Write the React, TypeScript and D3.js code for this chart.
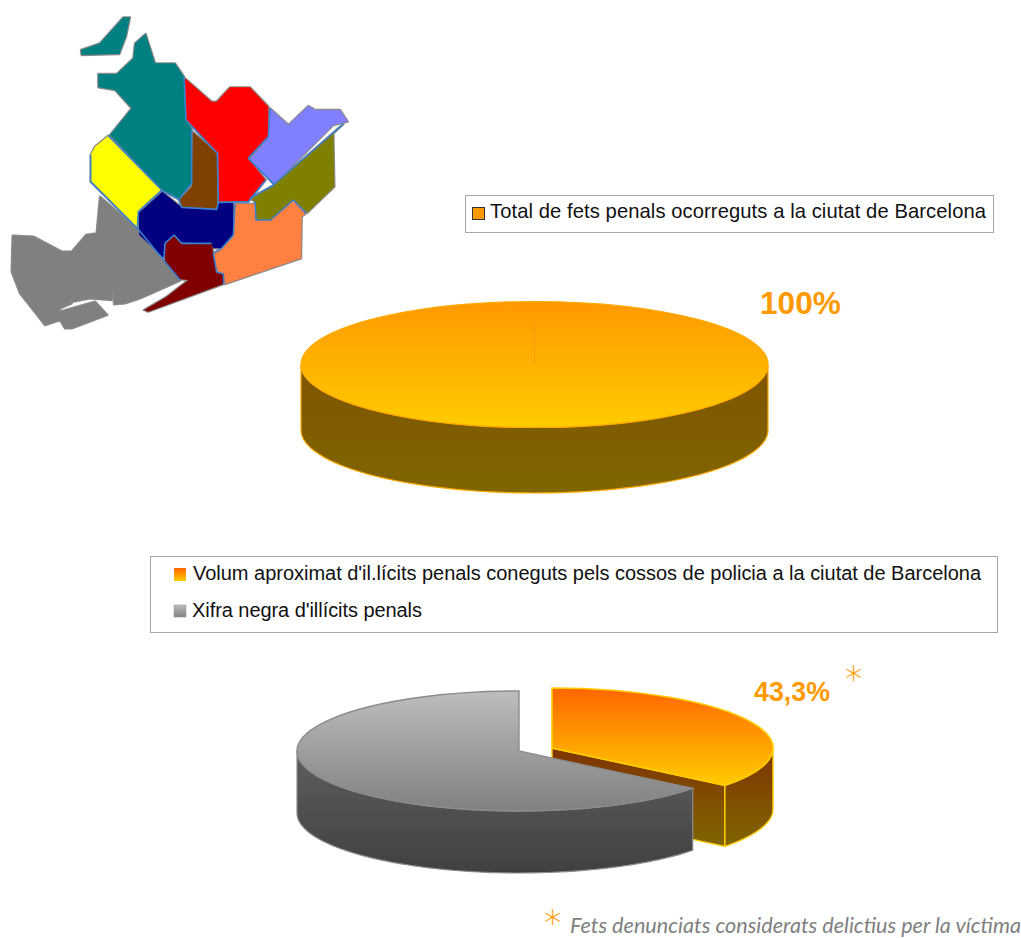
import React from "react";
import * as d3 from "d3";

// ---------- data ----------
const totalLabels = ["Total de fets penals ocorreguts a la ciutat de Barcelona"];
const totalValues = [100];
const splitLabels = [
  "Volum aproximat d'il.lícits penals coneguts pels cossos de policia a la ciutat de Barcelona",
  "Xifra negra d'illícits penals",
];
// shares as they appear in the drawn (perspective-distorted) pie
const splitDrawnShares = [35.7, 64.3];
const totalText = "100%";
const splitText = "43,3%";
const footnote = "Fets denunciats considerats delictius per la víctima";

// district outlines of the Barcelona map, in map units
type Pt = [number, number];
const districts: { fill: string; pts: Pt[] }[] = [
  { fill: "#808080", pts: [[38,707],[100,710],[185,755],[215,755],[258,705],[290,700],[300,590],[415,690],[540,842],[420,895],[375,910],[342,913],[342,875],[335,875],[335,900],[270,895],[220,905],[200,893],[215,910],[180,925],[180,935],[285,905],[322,945],[215,985],[195,985],[180,960],[135,975],[60,880],[35,815]] },
  { fill: "#008080", pts: [[243,150],[300,130],[370,52],[390,52],[378,110],[358,162],[245,165]] },
  { fill: "#008080", pts: [[295,222],[350,222],[400,175],[405,130],[437,102],[465,190],[525,190],[552,230],[558,360],[575,385],[575,550],[537,598],[487,570],[330,405],[395,325],[345,270],[295,262]] },
  { fill: "#FF0000", pts: [[555,235],[635,305],[650,305],[690,262],[750,262],[805,320],[805,410],[745,475],[797,540],[745,605],[655,605],[655,460],[558,360]] },
  { fill: "#8080FF", pts: [[810,325],[865,375],[925,318],[945,330],[1020,330],[1043,365],[1000,375],[822,553],[750,478],[805,415]] },
  { fill: "#808000", pts: [[1030,372],[1000,400],[1003,560],[922,638],[880,600],[812,660],[768,660],[765,605],[750,595],[822,555]] },
  { fill: "#804000", pts: [[578,395],[652,460],[652,630],[620,628],[545,620],[537,600],[575,560]] },
  { fill: "#FFFF00", pts: [[325,407],[485,570],[415,635],[412,685],[272,545],[272,465],[285,440]] },
  { fill: "#000080", pts: [[487,575],[545,622],[650,628],[655,607],[700,610],[700,705],[665,745],[640,745],[632,730],[545,728],[522,705],[495,730],[492,775],[418,705],[415,640]] },
  { fill: "#800000", pts: [[522,708],[545,730],[635,730],[640,762],[650,818],[670,822],[670,852],[445,935],[432,930],[500,890],[565,840],[540,838],[495,790],[495,730]] },
  { fill: "#FF8040", pts: [[705,612],[765,612],[768,660],[812,660],[880,600],[918,640],[905,650],[903,775],[675,852],[670,820],[650,815],[640,760],[665,745],[700,710]] },
];
const districtBorders: Pt[][] = [
  [[552,230],[558,360],[652,460],[655,605]],
  [[575,390],[575,550],[537,598],[487,572]],
  [[325,407],[485,570],[415,635],[412,685]],
  [[272,465],[272,545],[412,685],[540,840]],
  [[537,600],[545,622],[650,628],[655,607],[745,605],[797,540]],
  [[810,325],[805,410],[745,475],[822,553],[1030,372]],
  [[750,595],[822,555]],
  [[705,612],[700,705],[665,745],[640,760],[650,815],[670,822],[672,852]],
  [[765,605],[768,660],[812,660],[880,600],[918,640]],
  [[492,775],[495,730],[522,705],[545,730],[635,730]],
];

// ---------- helpers ----------
const mapX = d3.scaleLinear().domain([0, 3]).range([0, 1]);
const mapY = d3.scaleLinear().domain([0, 3]).range([0, 1]);
const mapLine = d3.line<Pt>().x((d) => mapX(d[0])).y((d) => mapY(d[1]));

const pie = d3.pie<number>().sort(null).value((d) => d);

type Geo = { cx: number; cy: number; rx: number; ry: number; depth: number };

function topPath(g: Geo, a0: number, a1: number) {
  const arc = d3.arc<any>().innerRadius(0).outerRadius(g.rx).startAngle(a0).endAngle(a1);
  return arc({}) as string;
}
const topTransform = (g: Geo) => `translate(${g.cx},${g.cy}) scale(1,${g.ry / g.rx})`;

function wallPath(g: Geo, a0: number, a1: number) {
  const lo = Math.max(a0, Math.PI / 2);
  const hi = Math.min(a1, (3 * Math.PI) / 2);
  const angles = d3.range(0, 81).map((i) => lo + ((hi - lo) * i) / 80);
  const px = (a: number) => g.cx + g.rx * Math.sin(a);
  const py = (a: number) => g.cy - g.ry * Math.cos(a);
  const pts: Pt[] = [
    ...angles.map((a) => [px(a), py(a)] as Pt),
    ...angles.slice().reverse().map((a) => [px(a), py(a) + g.depth] as Pt),
  ];
  return d3.line<Pt>()(pts) + "Z";
}
function facePath(g: Geo, a: number) {
  const x = g.cx + g.rx * Math.sin(a);
  const y = g.cy - g.ry * Math.cos(a);
  return `M${g.cx},${g.cy}L${x},${y}L${x},${y + g.depth}L${g.cx},${g.cy + g.depth}Z`;
}

const grad = (id: string, a: string, b: string) => (
  <linearGradient id={id} x1="0" y1="0" x2="0" y2="1" key={id}>
    <stop offset="0" stopColor={a} />
    <stop offset="1" stopColor={b} />
  </linearGradient>
);

const geoTotal: Geo = { cx: 534.5, cy: 364.5, rx: 233.5, ry: 63, depth: 65.5 };
const geoOrange: Geo = { cx: 552, cy: 748, rx: 221, ry: 60, depth: 61 };
const geoGray: Geo = { cx: 519, cy: 751, rx: 222, ry: 60, depth: 62 };

const sans = "'Liberation Sans', Arial, sans-serif";
const humanist = "Lato, 'Open Sans', sans-serif";
const star = "'DejaVu Sans', sans-serif";

export default function App() {
  const total = pie(totalValues)[0];
  const [orange, gray] = pie(splitDrawnShares);
  return (
    <svg
      width={1021}
      height={938}
      viewBox="0 0 1021 938"
      style={{ position: "absolute", left: 0, top: 0, display: "block", background: "#fff" }}
    >
      <defs>
        {grad("gTop", "#FF9900", "#FFCC00")}
        {grad("gWall", "#7F5400", "#806600")}
        {grad("gOrangeTop", "#FF6600", "#FFCC00")}
        {grad("gOrangeWall", "#7F3300", "#806600")}
        {grad("gGrayTop", "#BDBDBD", "#808080")}
        {grad("gGrayWall", "#5E5E5E", "#404040")}
      </defs>

      {/* map */}
      <g>
        {districts.map((d, i) => (
          <path key={i} d={mapLine(d.pts) + "Z"} fill="#fff" stroke="#8a8a8a" strokeWidth={2.4} strokeLinejoin="round" />
        ))}
        {districts.map((d, i) => (
          <path key={i} d={mapLine(d.pts) + "Z"} fill={d.fill} />
        ))}
        {districtBorders.map((b, i) => (
          <path key={i} d={mapLine(b) as string} fill="none" stroke="#3A7FD0" strokeWidth={1.6} strokeLinejoin="round" />
        ))}
      </g>

      {/* legend 1 */}
      <rect x={465.5} y={195.5} width={528} height={37} fill="#fff" stroke="#a6a6a6" />
      <rect x={472.5} y={207.5} width={12} height={12} fill="#FF9900" stroke="#333" />
      <text x={490} y={218} fontFamily={sans} fontSize={20.2} fill="#111" textLength={496} lengthAdjust="spacing">{totalLabels[0]}</text>

      {/* total pie */}
      <path d={wallPath(geoTotal, total.startAngle, total.endAngle)} fill="url(#gWall)" stroke="#FFAA00" strokeWidth={1.2} />
      <path d={topPath(geoTotal, total.startAngle, total.endAngle)} transform={topTransform(geoTotal)} fill="url(#gTop)" stroke="#FFAA00" strokeWidth={1.2} style={{ vectorEffect: "non-scaling-stroke" }} />
      <line x1={geoTotal.cx} y1={geoTotal.cy} x2={geoTotal.cx} y2={geoTotal.cy - geoTotal.ry * 0.7} stroke="#F59A10" strokeWidth={1} />
      <text x={760} y={314} fontFamily={sans} fontSize={31.6} fontWeight={700} fill="#FF9900">{totalText}</text>

      {/* legend 2 */}
      <rect x={150.5} y={556.5} width={847} height={76} fill="#fff" stroke="#a6a6a6" />
      <rect x={174} y={568} width={12} height={13} fill="url(#gOrangeTop)" />
      <rect x={174} y={605} width={12} height={12} fill="url(#gGrayTop)" stroke="#999" strokeWidth={0.6} />
      <text x={193} y={580} fontFamily={sans} fontSize={20} fill="#111" textLength={788} lengthAdjust="spacing">{splitLabels[0]}</text>
      <text x={192} y={617} fontFamily={sans} fontSize={20} fill="#111" textLength={230} lengthAdjust="spacing">{splitLabels[1]}</text>

      {/* split pie: orange */}
      <path d={facePath(geoOrange, orange.endAngle)} fill="url(#gOrangeWall)" stroke="#FFCC00" strokeWidth={1.4} />
      <path d={wallPath(geoOrange, orange.startAngle, orange.endAngle)} fill="url(#gOrangeWall)" stroke="#FFCC00" strokeWidth={1.4} />
      <path d={topPath(geoOrange, orange.startAngle, orange.endAngle)} transform={topTransform(geoOrange)} fill="url(#gOrangeTop)" stroke="#FFCC00" strokeWidth={1.6} style={{ vectorEffect: "non-scaling-stroke" }} />

      {/* split pie: grey */}
      <path d={wallPath(geoGray, gray.startAngle, gray.endAngle)} fill="url(#gGrayWall)" stroke="#8c8c8c" strokeWidth={1.2} />
      <path d={topPath(geoGray, gray.startAngle, gray.endAngle)} transform={topTransform(geoGray)} fill="url(#gGrayTop)" stroke="#8c8c8c" strokeWidth={1.4} style={{ vectorEffect: "non-scaling-stroke" }} />

      <text x={754} y={701} fontFamily={sans} fontSize={26.8} fontWeight={700} fill="#FF9900">{splitText}</text>
      <text x={843} y={684} fontFamily={star} fontSize={34} fontWeight={200} fill="#FF9900" stroke="#FF9900" strokeWidth={0.3}>∗</text>

      {/* footnote */}
      <text x={542} y={928} fontFamily={star} fontSize={34} fontWeight={200} fill="#FF9900" stroke="#FF9900" strokeWidth={0.3}>∗</text>
      <text x={570} y={933} fontFamily={humanist} fontSize={21.6} fontStyle="italic" fill="#808080" textLength={451} lengthAdjust="spacing">{footnote}</text>
    </svg>
  );
}
